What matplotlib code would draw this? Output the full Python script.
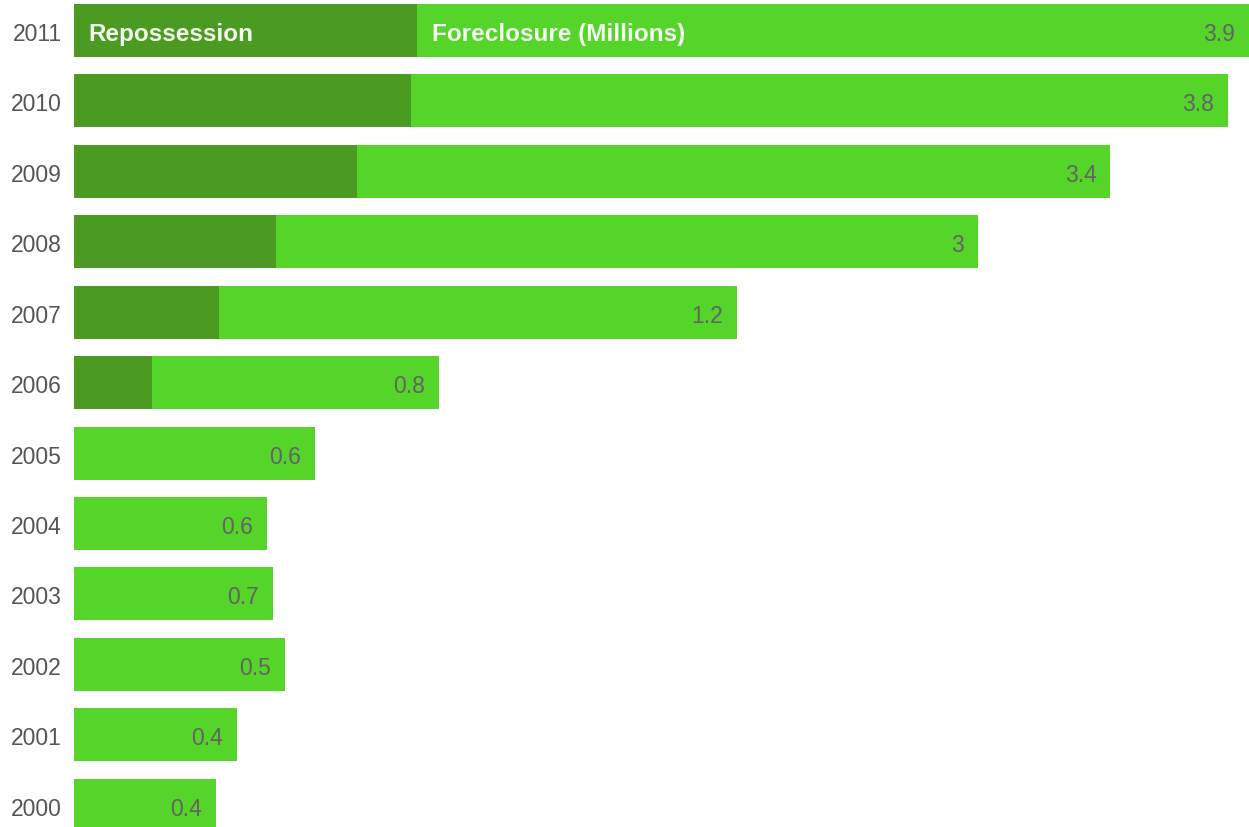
import matplotlib
matplotlib.use('Agg')
import matplotlib.pyplot as plt
import matplotlib.transforms as mtransforms

# Data (top row first)
years = ['2011', '2010', '2009', '2008', '2007', '2006',
         '2005', '2004', '2003', '2002', '2001', '2000']
# drawn bar lengths (as they appear on the chart)
foreclosure_len = [3.90, 3.83, 3.44, 3.00, 2.20, 1.21,
                   0.80, 0.64, 0.66, 0.70, 0.54, 0.47]
repossession_len = [1.14, 1.12, 0.94, 0.67, 0.48, 0.26,
                    0, 0, 0, 0, 0, 0]
value_labels = ['3.9', '3.8', '3.4', '3', '1.2', '0.8',
                '0.6', '0.6', '0.7', '0.5', '0.4', '0.4']

light_green = '#55d42a'
dark_green = '#4b9a22'
font = ['Liberation Sans', 'DejaVu Sans']

fig = plt.figure(figsize=(12.49, 8.28), dpi=100)
ax = fig.add_axes([74 / 1249, 0, 1175 / 1249, 1])

pos = list(range(len(years)))
ax.barh(pos, foreclosure_len, height=0.753, color=light_green, edgecolor='none')
ax.barh(pos, repossession_len, height=0.753, color=dark_green, edgecolor='none')

# value labels at right end of each bar
val_tr = mtransforms.offset_copy(ax.transData, fig=fig, x=-14, y=-3, units='dots')
for i, (v, lab) in enumerate(zip(foreclosure_len, value_labels)):
    ax.text(v, i, lab, transform=val_tr, ha='right', va='center',
            fontsize=16.5, color='#636363', family=font)

# year labels on the left
year_tr = mtransforms.offset_copy(
    mtransforms.blended_transform_factory(ax.transAxes, ax.transData),
    fig=fig, x=-12, y=-3, units='dots')
for i, yr in enumerate(years):
    ax.text(0, i, yr, transform=year_tr, ha='right', va='center',
            fontsize=16.5, color='#555555', family=font)

# series labels in the top bar
lab_tr = mtransforms.offset_copy(
    mtransforms.blended_transform_factory(ax.transAxes, ax.transData),
    fig=fig, x=0, y=-3, units='dots')
ax.text(14 / 1175, 0, 'Repossession', transform=lab_tr,
        ha='left', va='center', fontsize=17.5, fontweight='bold', color='#f4fbef', family=font)
ax.text(358 / 1175, 0, 'Foreclosure (Millions)', transform=lab_tr,
        ha='left', va='center', fontsize=17.5, fontweight='bold', color='#f4fbef', family=font)

ax.set_xlim(0, 3.90)
ax.set_ylim(11.31, -0.447)
ax.set_xticks([])
ax.set_yticks([])
for s in ax.spines.values():
    s.set_visible(False)

plt.savefig('out.png', dpi=100)
